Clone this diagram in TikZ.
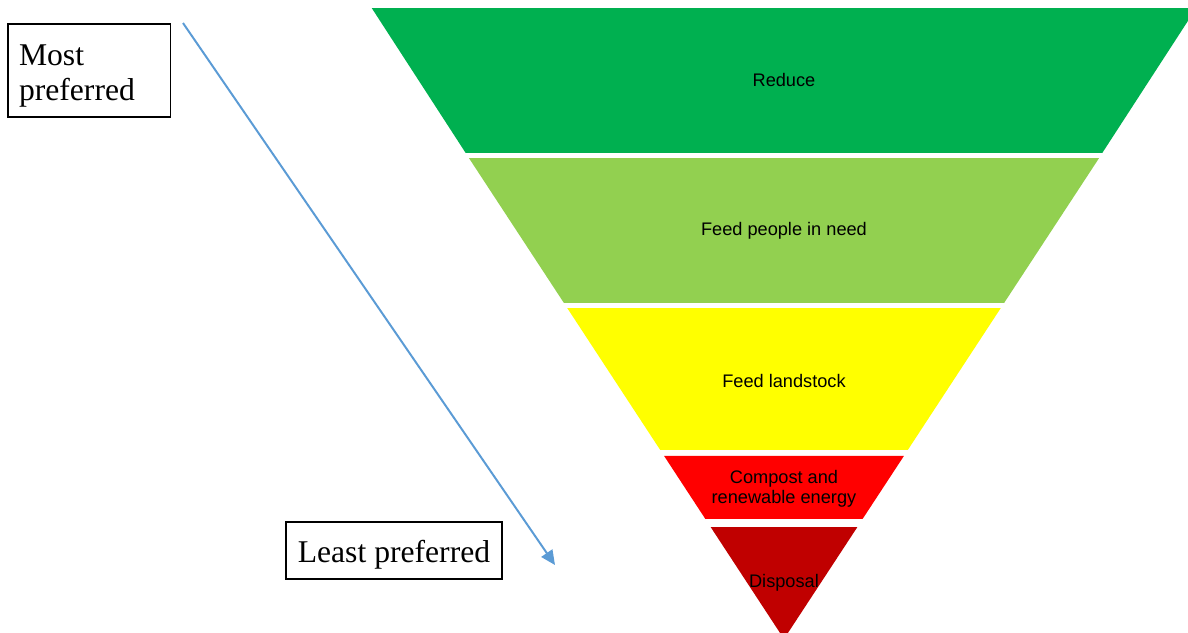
\documentclass[tikz,border=0pt]{standalone}
\usepackage{fontspec}
\setmainfont{Liberation Serif}
\setsansfont{Liberation Sans}
\usetikzlibrary{arrows.meta}
\definecolor{reducegreen}{RGB}{0,176,80}
\definecolor{peoplegreen}{RGB}{146,208,80}
\definecolor{landyellow}{RGB}{255,255,0}
\definecolor{compostred}{RGB}{255,0,0}
\definecolor{disposalred}{RGB}{192,0,0}
\definecolor{arrowblue}{RGB}{91,155,213}

\begin{document}
\begin{tikzpicture}[
    stufe/.style={font=\sffamily\fontsize{6.9}{7.6}\selectfont, align=center, text=black},
    kasten/.style={draw=black, line width=0.4pt, font=\fontsize{12}{13.6}\selectfont}
]
    \useasboundingbox (0,0) rectangle (15.84,8.4267);
    \clip (0,0) rectangle (15.84,8.4267);

    % Umgekehrte Pyramide, von oben nach unten
    \fill[reducegreen] (4.956,8.32) -- (15.951,8.32) -- (14.697,6.387) -- (6.209,6.387) -- cycle;
    \fill[peoplegreen] (6.252,6.32) -- (14.655,6.32) -- (13.388,4.387) -- (7.519,4.387) -- cycle;
    \fill[landyellow] (7.563,4.32) -- (13.344,4.32) -- (12.104,2.427) -- (8.803,2.427) -- cycle;
    \fill[compostred] (8.855,2.347) -- (12.052,2.347) -- (11.501,1.507) -- (9.405,1.507) -- cycle;
    \fill[disposalred] (9.475,1.4) -- (11.432,1.4) -- (10.453,-0.093) -- cycle;

    % Beschriftungen der Stufen
    \node[stufe] (reduce) at (10.453,7.36) {Reduce};
    \node[stufe] (people) at (10.453,5.347) {Feed people in need};
    \node[stufe] (landstock) at (10.453,3.347) {Feed landstock};
    \node[stufe] (compost) at (10.453,1.913) {Compost and\\renewable energy};
    \node[stufe] (disposal) at (10.453,0.653) {Disposal};

    % Kaesten links
    \node[kasten, align=left, text width=1.867cm, inner xsep=0.147cm, minimum height=1.24cm] (most) at (1.187,7.487) {\rule{0pt}{12pt}Most\\preferred};
    \node[kasten, minimum width=2.88cm, minimum height=0.76cm] (least) at (5.253,1.087) {\rule{0pt}{12pt}Least preferred};

    % Pfeil
    \coordinate (pfeilanfang) at (2.44,8.12);
    \coordinate (pfeilende) at (7.4,0.893);
    \draw[arrowblue, line width=0.75pt, -{Triangle[length=5.5pt,width=5pt]}] (pfeilanfang) -- (pfeilende);
\end{tikzpicture}
\end{document}
